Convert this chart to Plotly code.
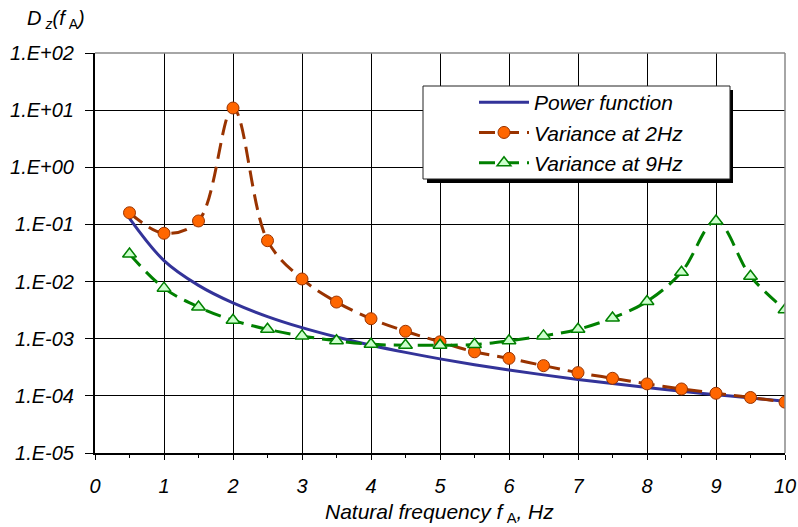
import plotly.graph_objects as go

freq = [0.5, 1, 1.5, 2, 2.5, 3, 3.5, 4, 4.5, 5, 5.5, 6, 6.5, 7, 7.5, 8, 8.5, 9, 9.5, 10]
power_fn = [0.128, 0.0233, 0.00858, 0.00423, 0.00244, 0.00156, 0.00107, 0.000769, 0.000576, 0.000444,
            0.000351, 0.000284, 0.000233, 0.000194, 0.000164, 0.00014, 0.00012, 0.000105, 0.0000915, 0.0000806]
var_2hz = [0.16, 0.070, 0.115, 10.9, 0.052, 0.0111, 0.00438, 0.00224, 0.00135, 0.000883,
           0.00059, 0.000453, 0.000338, 0.000255, 0.000203, 0.000162, 0.000132, 0.000111, 0.0000937, 0.0000776]
var_9hz = [0.0303, 0.00767, 0.00359, 0.0021, 0.00146, 0.00112, 0.00092, 0.0008, 0.00077, 0.00077,
           0.00079, 0.00092, 0.00112, 0.00146, 0.00231, 0.00449, 0.0146, 0.115, 0.0124, 0.00322]
y_tickvals = [1e-5, 1e-4, 1e-3, 1e-2, 1e-1, 1e0, 1e1, 1e2]
y_ticktext = ["1.E-05", "1.E-04", "1.E-03", "1.E-02", "1.E-01", "1.E+00", "1.E+01", "1.E+02"]
x_tickvals = list(range(0, 11))

FONT = "Liberation Sans, Arial, sans-serif"
THIN = "\u2009"

# page pixel -> paper coordinate helpers
PX0, PX1, PY0, PY1 = 95.0, 785.0, 53.0, 453.0


def px(x):
    return (x - PX0) / (PX1 - PX0)


def py(y):
    return (PY1 - y) / (PY1 - PY0)


fig = go.Figure()
fig.add_trace(go.Scatter(
    x=freq, y=power_fn, name="Power function", mode="lines",
    line=dict(color="#333399", width=3, shape="spline"), legendgroup="a"))
fig.add_trace(go.Scatter(
    x=freq, y=var_2hz, name="Variance at 2Hz", mode="lines+markers",
    line=dict(color="#993300", width=3, dash="16px,8px", shape="spline"),
    marker=dict(symbol="circle", size=12, color="#FF6600", line=dict(color="#993300", width=1)),
    legendgroup="b"))
fig.add_trace(go.Scatter(
    x=freq, y=var_9hz, name="Variance at 9Hz", mode="lines+markers",
    line=dict(color="#008000", width=3, dash="16px,8px", shape="spline"),
    marker=dict(symbol="triangle-up", size=12, color="#CCFFCC", line=dict(color="#008000", width=1.5)),
    legendgroup="c"))

fig.update_layout(
    width=798, height=527,
    margin=dict(l=95, r=13, t=53, b=74, autoexpand=False),
    paper_bgcolor="white", plot_bgcolor="white",
    font=dict(family=FONT, size=20, color="black"),
    showlegend=True,
    legend=dict(
        x=px(474), y=py(132.5), xanchor="left", yanchor="middle",
        bgcolor="rgba(0,0,0,0)", borderwidth=0,
        font=dict(family=FONT, size=21, style="italic"),
        tracegroupgap=0, itemwidth=50,
    ),
    xaxis=dict(
        range=[0, 10], tickvals=x_tickvals, ticks="outside", ticklen=5, tickcolor="black",
        showline=True, linecolor="black", linewidth=1.5, mirror=False, automargin=False,
        showgrid=True, gridcolor="black", gridwidth=1, zeroline=False,
        tickfont=dict(family=FONT, size=20, style="italic"), ticklabelstandoff=9,
        minor=dict(dtick=0.5, ticks="outside", ticklen=3, tickcolor="black", showgrid=False),
    ),
    yaxis=dict(
        type="log", range=[-5, 2], tickvals=y_tickvals, ticktext=y_ticktext,
        ticks="outside", ticklen=8, tickcolor="black", automargin=False,
        showline=True, linecolor="black", linewidth=2,
        showgrid=True, gridcolor="black", gridwidth=1, zeroline=False,
        tickfont=dict(family=FONT, size=20, style="italic"), ticklabelstandoff=7,
    ),
    shapes=[
        dict(type="line", xref="paper", yref="paper", x0=0, x1=1, y0=1, y1=1,
             line=dict(color="#888888", width=1.5)),
        dict(type="line", xref="paper", yref="paper", x0=1, x1=1, y0=0, y1=1,
             line=dict(color="#888888", width=1.5)),
        # legend shadow and box
        dict(type="rect", xref="paper", yref="paper",
             x0=px(427), x1=px(733), y0=py(183), y1=py(90),
             fillcolor="black", line=dict(width=0), layer="above"),
        dict(type="rect", xref="paper", yref="paper",
             x0=px(423), x1=px(730), y0=py(179), y1=py(86),
             fillcolor="white", line=dict(color="#222222", width=1), layer="above"),
    ],
    annotations=[
        dict(text="<i>D</i>" + THIN + "<sub><i>z</i></sub><i>(f</i>" + THIN + "<sub>A</sub><i>)</i>",
             xref="paper", yref="paper", x=px(25), y=py(20),
             xanchor="left", yanchor="middle", showarrow=False,
             font=dict(family=FONT, size=20)),
        dict(text="<i>Natural frequency f</i>" + THIN + "<sub>A</sub><i>, Hz</i>",
             xref="paper", yref="paper", x=px(439), y=py(513),
             xanchor="center", yanchor="middle", showarrow=False,
             font=dict(family=FONT, size=21)),
    ],
)

fig.write_html(
    "out.html",
    config={"displayModeBar": False},
    post_script="document.body.style.margin='0';document.body.style.overflow='hidden';",
)
